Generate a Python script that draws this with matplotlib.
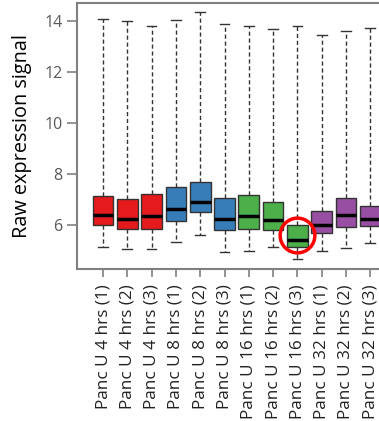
import numpy as np
import matplotlib
matplotlib.use("Agg")
import matplotlib.pyplot as plt

# sample labels
labels = ["Panc U 4 hrs (1)", "Panc U 4 hrs (2)", "Panc U 4 hrs (3)",
          "Panc U 8 hrs (1)", "Panc U 8 hrs (2)", "Panc U 8 hrs (3)",
          "Panc U 16 hrs (1)", "Panc U 16 hrs (2)", "Panc U 16 hrs (3)",
          "Panc U 32 hrs (1)", "Panc U 32 hrs (2)", "Panc U 32 hrs (3)"]

# box stats
whislo = [5.13, 5.05, 5.05, 5.31, 5.60, 4.95, 4.99, 5.13, 4.65, 4.97, 5.10, 5.28]
q1     = [6.00, 5.83, 5.85, 6.16, 6.51, 5.78, 5.85, 5.80, 5.13, 5.67, 5.93, 5.96]
med    = [6.40, 6.22, 6.35, 6.64, 6.90, 6.22, 6.33, 6.20, 5.41, 6.01, 6.40, 6.25]
q3     = [7.14, 7.01, 7.20, 7.50, 7.69, 7.06, 7.16, 6.90, 5.99, 6.54, 7.06, 6.75]
whishi = [14.07, 14.01, 13.80, 14.04, 14.33, 13.88, 13.80, 13.67, 13.80, 13.46, 13.62, 13.73]

group_colors = ["#E41A1C", "#377EB8", "#4DAF4A", "#984EA3"]
colors = [c for c in group_colors for _ in range(3)]

highlight = 9  # circled sample (1-based)

fig = plt.figure(figsize=(3.79, 4.21), dpi=100)
# axes runs off the right edge like the cropped original
ax = fig.add_axes([77 / 379, 1 - 269 / 421, 319.3 / 379, 266 / 421])

stats = []
for i in range(len(labels)):
    stats.append(dict(whislo=whislo[i], q1=q1[i], med=med[i], q3=q3[i],
                      whishi=whishi[i], fliers=[]))

bp = ax.bxp(stats, positions=np.arange(1, len(labels) + 1), widths=0.85,
            patch_artist=True, showfliers=False,
            boxprops=dict(edgecolor="#333333", linewidth=1.0),
            medianprops=dict(color="black", linewidth=2.5),
            whiskerprops=dict(color="#333333", linestyle=(0, (3, 2)), linewidth=1.0),
            capprops=dict(color="#333333", linewidth=1.0))
for patch, c in zip(bp["boxes"], colors):
    patch.set_facecolor(c)
for cap in bp["caps"]:
    x = cap.get_xdata()
    m = x.mean()
    cap.set_xdata([m - 0.2, m + 0.2])

ax.plot([highlight], [5.61], "o", ms=25, mfc="none", mec="#FF0000", mew=2.5,
        zorder=5)

ax.set_xlim(-0.07, 13.07)
ax.set_ylim(4.27, 14.7)
ax.set_yticks([6, 8, 10, 12, 14])
ax.set_xticks(np.arange(1, len(labels) + 1))
ax.set_xticklabels(labels, rotation=90, fontsize=12.3, family="Open Sans",
                   color="#222222")
ax.tick_params(axis="y", labelsize=11.5, labelcolor="#595959", colors="#808080",
               length=7, width=1.2)
ax.tick_params(axis="x", colors="#808080", length=6, width=1.2, labelcolor="#222222",
               pad=5)
for lab in ax.get_yticklabels():
    lab.set_family("Open Sans")
for s in ax.spines.values():
    s.set_color("#808080")
    s.set_linewidth(1.5)

ax.set_ylabel("Raw expression signal", fontsize=14.3, family="Open Sans",
              labelpad=9)

fig.savefig("out.png", dpi=100)
